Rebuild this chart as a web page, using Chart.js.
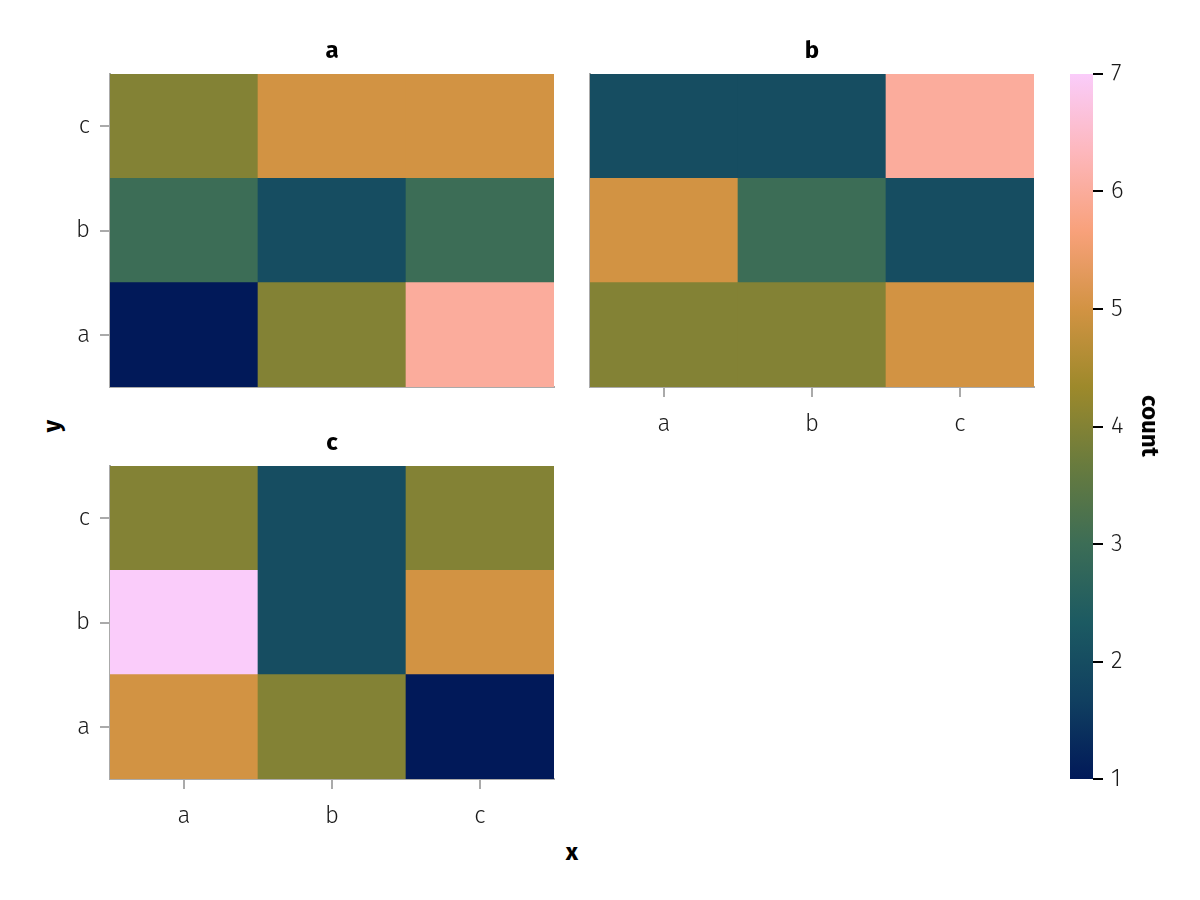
<!DOCTYPE html>
<html><head><meta charset="utf-8">
<script src="https://cdn.jsdelivr.net/npm/chart.js@4.4.1/dist/chart.umd.min.js"></script>
<style>
html,body{margin:0;padding:0;background:#fff;}
body{width:1200px;height:900px;position:relative;overflow:hidden;font-family:'Fira Sans',Roboto,'Open Sans',sans-serif;}
canvas{position:absolute;}
.lbl{position:absolute;font-weight:bold;font-size:24px;color:#000;white-space:nowrap;line-height:1;}
</style></head><body>
<canvas id="pa" width="560" height="340" style="left:0px;top:60px;"></canvas>
<canvas id="pb" width="500" height="400" style="left:560px;top:60px;"></canvas>
<canvas id="pc" width="560" height="420" style="left:0px;top:452px;"></canvas>
<canvas id="cb" width="160" height="740" style="left:1040px;top:60px;"></canvas>
<div class="lbl" id="ta" style="left:332px;top:50px;transform:translate(-50%,-50%);">a</div>
<div class="lbl" id="tb" style="left:812px;top:50px;transform:translate(-50%,-50%);">b</div>
<div class="lbl" id="tc" style="left:332px;top:442px;transform:translate(-50%,-50%);">c</div>
<div class="lbl" id="lx" style="left:572px;top:852px;transform:translate(-50%,-50%);">x</div>
<div class="lbl" id="ly" style="left:52px;top:426px;transform:translate(-50%,-50%) rotate(-90deg);">y</div>
<div class="lbl" id="lc" style="left:1150px;top:426px;transform:translate(-50%,-50%) rotate(90deg);">count</div>
<script>
// ---- data ----
const xCats = ['a', 'b', 'c'];
const yCats = ['a', 'b', 'c'];
const facetTitles = ['a', 'b', 'c'];
// counts per facet; rows are y = a, b, c; columns are x = a, b, c
const countsA = [[1, 4, 6], [3, 2, 3], [4, 5, 5]];
const countsB = [[4, 4, 5], [5, 3, 2], [2, 2, 6]];
const countsC = [[5, 4, 1], [7, 2, 5], [4, 2, 4]];
const colorTicks = [1, 2, 3, 4, 5, 6, 7];
const colorMin = 1, colorMax = 7;

// ---- style ----
const batlow = ['#011959','#103F60','#1C5A62','#3C6D56','#687B3E','#9D892B','#D29343','#F8A17B','#FDB7BC','#FACCFA'];
const FONT = "'Fira Sans', Roboto, 'Open Sans', sans-serif";
const SPINE = '#aaaaaa';
function hex2rgb(h){return [parseInt(h.slice(1,3),16),parseInt(h.slice(3,5),16),parseInt(h.slice(5,7),16)];}
function colorFor(v){
  const t = Math.min(1, Math.max(0, (v - colorMin) / (colorMax - colorMin)));
  const p = t * (batlow.length - 1);
  const i = Math.min(batlow.length - 2, Math.floor(p));
  const f = p - i;
  const a = hex2rgb(batlow[i]), b = hex2rgb(batlow[i+1]);
  const c = a.map((x, k) => Math.round(x + (b[k] - x) * f));
  return 'rgb(' + c.join(',') + ')';
}
Chart.defaults.font.family = FONT;

function makePanel(id, counts, cfg) {
  const datasets = yCats.map((yc, r) => ({
    label: yc,
    data: xCats.map(() => [r, r + 1]),
    backgroundColor: counts[r].map(colorFor),
    borderWidth: 0,
    barPercentage: 1,
    categoryPercentage: 1,
    grouped: false
  }));
  new Chart(document.getElementById(id), {
    type: 'bar',
    data: { labels: xCats, datasets },
    options: {
      responsive: false, animation: false, devicePixelRatio: 1,
      events: [],
      layout: { padding: cfg.padding },
      plugins: { legend: { display: false }, tooltip: { enabled: false }, title: { display: false } },
      scales: {
        x: {
          type: 'category', offset: true, z: 1,
          grid: { display: cfg.showX, offset: false, drawOnChartArea: false, drawTicks: true, tickLength: 10, color: SPINE, lineWidth: 2 },
          border: { display: true, color: SPINE, width: 2 },
          ticks: { display: cfg.showX, padding: 13, color: '#1a1a1a', font: { size: 24, weight: '300' } },
          afterFit: s => { s.height = cfg.xh; s.paddingLeft = 0; s.paddingRight = 0; s.paddingTop = 0; s.paddingBottom = 0; }
        },
        y: {
          type: 'linear', min: 0, max: yCats.length, z: 1,
          afterBuildTicks: s => { s.ticks = yCats.map((_, i) => ({ value: i + 0.5 })); },
          grid: { display: cfg.showY, drawOnChartArea: false, drawTicks: true, tickLength: 10, color: SPINE, lineWidth: 2 },
          border: { display: true, color: SPINE, width: 2 },
          ticks: { display: cfg.showY, padding: 10, color: '#1a1a1a', font: { size: 24, weight: '300' },
                   callback: (v, i) => yCats[i] },
          afterFit: s => { s.width = cfg.yw; s.paddingLeft = 0; s.paddingRight = 0; s.paddingTop = 0; s.paddingBottom = 0; }
        }
      }
    }
  });
}

makePanel('pa', countsA, { padding: { left: 0, top: 14, right: 6, bottom: 13 }, xh: 0, yw: 110, showX: false, showY: true });
makePanel('pb', countsB, { padding: { left: 30, top: 14, right: 26, bottom: 0 }, xh: 73, yw: 0, showX: true, showY: false });
makePanel('pc', countsC, { padding: { left: 0, top: 14, right: 6, bottom: 0 }, xh: 93, yw: 110, showX: true, showY: true });

// colorbar
new Chart(document.getElementById('cb'), {
  type: 'bar',
  data: { labels: ['count'], datasets: [{
    data: [[colorMin, colorMax]],
    borderWidth: 0, barPercentage: 1, categoryPercentage: 1,
    backgroundColor: (ctx) => {
      const ch = ctx.chart; const ys = ch.scales.y;
      if (!ch.chartArea || !ys) return batlow[0];
      const g = ch.ctx.createLinearGradient(0, ys.getPixelForValue(colorMin), 0, ys.getPixelForValue(colorMax));
      batlow.forEach((c, i) => g.addColorStop(i / (batlow.length - 1), c));
      return g;
    }
  }]},
  options: {
    responsive: false, animation: false, devicePixelRatio: 1, events: [],
    layout: { padding: { left: 30, top: 14, right: 0, bottom: 21 } },
    plugins: { legend: { display: false }, tooltip: { enabled: false } },
    scales: {
      x: { display: false, offset: true },
      y: {
        position: 'right', type: 'linear', min: colorMin, max: colorMax,
        afterBuildTicks: s => { s.ticks = colorTicks.map(v => ({ value: v })); },
        grid: { display: true, drawOnChartArea: false, drawTicks: true, tickLength: 10, color: '#000', lineWidth: 2 },
        border: { display: false },
        ticks: { padding: 8, color: '#1a1a1a', font: { size: 24, weight: '300' }, callback: v => String(v) },
        afterFit: s => { s.width = 107; s.paddingTop = 0; s.paddingBottom = 0; }
      }
    }
  }
});
</script>
</body></html>
